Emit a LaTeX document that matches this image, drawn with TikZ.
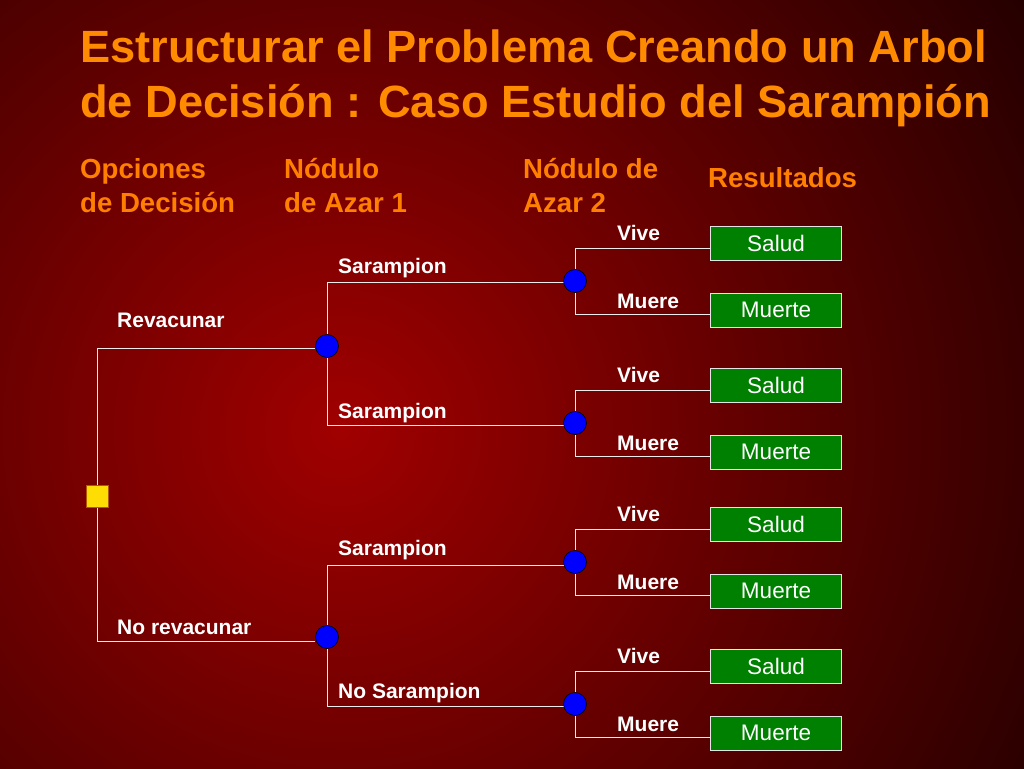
\documentclass[tikz,border=0pt]{standalone}
\usepackage{fontspec}
\setmainfont{Liberation Sans}
\begin{document}
\begin{tikzpicture}[x=1pt,y=-1pt,
  ln/.style={draw=white!85!gray,line width=0.8pt},
  chance/.style={circle,fill=blue,draw=black,line width=0.6pt,minimum size=23pt,inner sep=0pt},
  outc/.style={rectangle,fill=green!50!black,draw=white!80!gray,line width=0.6pt,minimum width=131pt,minimum height=34pt,inner sep=0pt,text=white,font=\fontsize{22.5}{22.5}\selectfont},
  lab/.style={anchor=base west,inner sep=0pt,text=white,font=\bfseries\fontsize{21}{21}\selectfont},
  hdr/.style={anchor=base west,inner sep=0pt,text=orange,font=\bfseries\fontsize{27.6}{27.6}\selectfont,align=left},
  ttl/.style={anchor=base west,inner sep=0pt,text=orange!90!yellow,font=\bfseries\fontsize{45.2}{45.2}\selectfont}]
\useasboundingbox (0,0) rectangle (1024,768);
\begin{scope}
\clip (0,0) rectangle (1024,768);
\fill[black] (0,0) rectangle (1024,768);
\shade[inner color={rgb,255:red,160;green,0;blue,0},outer color=black] (340,430) circle (1050);
\end{scope}
% title
\node[ttl] (t1) at (80,63) {Estructurar el Problema Creando un Arbol};
\node[ttl] (t2) at (80,117) {de Decisión : Caso Estudio del Sarampión};
% headers
\node[hdr] (h1a) at (80,178) {Opciones};
\node[hdr] (h1b) at (80,212) {de Decisión};
\node[hdr] (h2a) at (284,178) {Nódulo};
\node[hdr] (h2b) at (284,212) {de Azar 1};
\node[hdr] (h3a) at (523,178) {Nódulo de};
\node[hdr] (h3b) at (523,212) {Azar 2};
\node[hdr] (h4) at (708,187) {Resultados};
% decision
\coordinate (dt) at (97,348);
\coordinate (db) at (97,641);
\draw[ln] (dt) -- (db);
\node[rectangle,fill=yellow!80!orange,draw=orange!70!black,minimum size=22pt,inner sep=0pt] (d) at (97,496) {};
\node[chance] (c1) at (327,346) {};
\node[chance] (c2) at (327,637) {};
\draw[ln] (dt) -- (dt -| c1.west);
\draw[ln] (db) -- (db -| c2.west);
\node[lab] at (117,327) {Revacunar};
\node[lab] at (117,634) {No revacunar};
% chance 1 level
\foreach \c/\t/\b in {c1/282/425,c2/565/706}{
  \draw[ln] (\c.north) -- (327,\t) -- (575,\t);
  \draw[ln] (\c.south) -- (327,\b) -- (575,\b);
}
\node[chance] (e1) at (575,281) {};
\node[chance] (e2) at (575,423) {};
\node[chance] (e3) at (575,562) {};
\node[chance] (e4) at (575,704) {};
\node[lab] at (338,273) {Sarampion};
\node[lab] at (338,418) {Sarampion};
\node[lab] at (338,555) {Sarampion};
\node[lab] at (338,698) {No Sarampion};
% outcomes
\foreach \e/\y/\i in {e1/281/1,e2/423/2,e3/562/3,e4/704/4}{
  \node[outc] (s\i) at (776,\y-38) {Salud};
  \node[outc] (m\i) at (776,\y+29) {Muerte};
  \draw[ln] (\e.north) -- (575,\y-33) -- (s\i.west|-575,\y-33) ;
  \draw[ln] (\e.south) -- (575,\y+33) -- (m\i.west|-575,\y+33);
  \node[lab] at (617,\y-41) {Vive};
  \node[lab] at (617,\y+27) {Muere};
}
\end{tikzpicture}
\end{document}
